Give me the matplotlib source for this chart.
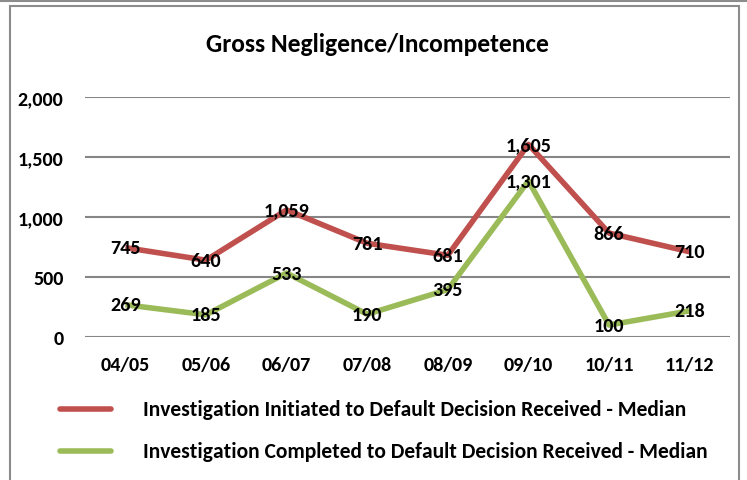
import matplotlib.pyplot as plt
from matplotlib.patches import Rectangle
from matplotlib.lines import Line2D

years = ['04/05', '05/06', '06/07', '07/08', '08/09', '09/10', '10/11', '11/12']
initiated = [745, 640, 1059, 781, 681, 1605, 866, 710]
completed = [269, 185, 533, 190, 395, 1301, 100, 218]
series_names = ['Investigation Initiated to Default Decision Received - Median',
                'Investigation Completed to Default Decision Received - Median']

RED = '#C0504D'
GREEN = '#9BBB59'
GRID = '#868686'

plt.rcParams['font.family'] = ['Carlito', 'Roboto Condensed', 'DejaVu Sans']
plt.rcParams['font.weight'] = 'bold'

W, H = 747, 481
fig = plt.figure(figsize=(W / 100, H / 100), dpi=100)

def fx(px):
    return px / W

def fy(py):
    return 1 - py / H

# chart area frame
fig.patches.append(Rectangle((fx(9.5), fy(490)), fx(729), (490 - 7) / H,
                             transform=fig.transFigure, fill=False,
                             edgecolor='#8C8C8C', linewidth=1.5))
fig.lines.append(Line2D([0, 1], [fy(1.5), fy(1.5)], transform=fig.transFigure,
                        color='#8C8C8C', linewidth=1.5))

ax = fig.add_axes([fx(85), fy(338), fx(730 - 85), (338 - 98) / H])
x = list(range(len(years)))

ax.plot(x, initiated, color=RED, linewidth=4, solid_capstyle='butt', zorder=3)
ax.plot(x, completed, color=GREEN, linewidth=4, solid_capstyle='butt', zorder=3)

for xi, v in zip(x, initiated):
    ax.text(xi, v, f'{v:,}', ha='center', va='center', fontsize=14.5,
            fontweight='bold', zorder=4)
for xi, v in zip(x, completed):
    ax.text(xi, v, f'{v:,}', ha='center', va='center', fontsize=14.5,
            fontweight='bold', zorder=4)

ax.set_xlim(-0.5, len(years) - 0.5)
ax.set_ylim(0, 2000)
ax.set_yticks([0, 500, 1000, 1500, 2000])
ax.set_yticklabels(['0', '500', '1,000', '1,500', '2,000'])
ax.set_xticks(x)
ax.set_xticklabels(years)
ax.tick_params(length=0, labelsize=14.5, pad=0)
ax.tick_params(axis='y', pad=15.5)
ax.tick_params(axis='x', pad=14)
for lbl in ax.get_xticklabels() + ax.get_yticklabels():
    lbl.set_fontweight('bold')
ax.grid(axis='y', color=GRID, linewidth=1.5)
ax.set_axisbelow(True)
for s in ax.spines.values():
    s.set_visible(False)

fig.text(fx(377), fy(44), 'Gross Negligence/Incompetence', ha='center',
         va='center', fontsize=18.4, fontweight='bold')

# legend
for py, color, name in [(410, RED, series_names[0]), (452, GREEN, series_names[1])]:
    fig.lines.append(Line2D([fx(60), fx(111)], [fy(py), fy(py)],
                            transform=fig.transFigure, color=color,
                            linewidth=4, solid_capstyle='round'))
    fig.text(fx(143), fy(py), name, ha='left', va='center', fontsize=15.5,
             fontweight='bold')

fig.savefig('out.png', dpi=100)
